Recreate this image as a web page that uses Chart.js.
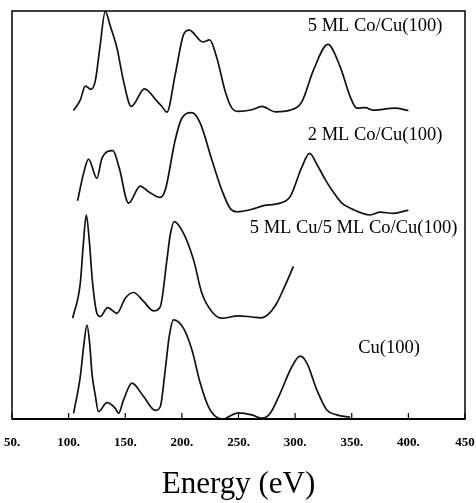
<!DOCTYPE html>
<html><head><meta charset="utf-8">
<script src="https://cdn.jsdelivr.net/npm/chart.js@4.4.1/dist/chart.umd.min.js"></script>
<style>html,body{margin:0;padding:0;background:#fff;}canvas{display:block;}</style>
</head><body>
<canvas id="c" width="476" height="503"></canvas>
<script>
// Energy (eV) and intensity (arbitrary units, curves are vertically offset as in the figure)
const co5E = [104.4,110.3,114.7,119.7,123.5,127.9,132.3,136.8,142.7,148.5,155.3,167.0,178.0,182.4,186.8,194.1,201.5,206.5,218.5,224.5,230.9,238.3,244.2,250.0,261.8,270.7,282.4,295.6,306.0,316.2,328.9,339.8,348.6,354.5,361.8,369.2,388.3,400.0];
const co5I = [75.6,78.2,81.6,80.8,82.8,91.7,99.9,96.3,90.9,82.8,76.6,80.9,77.9,76.6,75.2,84.4,94.2,95.3,92.4,92.9,88.5,80.3,76.2,75.4,75.8,76.6,75.3,75.7,77.8,85.5,91.8,86.3,79.0,76.2,76.3,75.7,76.2,75.6];

const co2E = [107.9,113.2,117.6,125.0,129.4,139.1,144.7,152.9,163.2,170.6,180.9,185.3,194.1,200.0,208.9,216.2,226.5,235.3,242.7,248.6,261.8,272.1,286.8,295.6,306.0,312.7,320.0,327.0,334.0,341.0,350.0,366.2,375.1,386.8,400.0];
const co2I = [53.5,60.2,63.7,59.0,63.9,65.8,61.5,52.9,57.1,55.7,54.3,56.1,68.4,73.7,75.1,72.5,63.5,56.1,51.6,50.8,51.4,52.3,52.9,54.5,61.8,65.1,62.0,58.5,55.5,53.0,51.5,50.0,50.7,50.4,51.2];

const cuCoE = [103.6,110.3,112.9,115.6,118.2,120.9,125.0,127.9,134.4,142.7,150.0,157.3,166.2,175.0,180.9,186.8,189.7,193.2,201.5,210.3,217.7,226.5,235.3,250.0,262.0,270.0,276.0,283.0,290.0,298.5];
const cuCoI = [24.7,33.3,42.6,50.0,43.9,34.1,25.9,25.1,27.3,25.9,29.6,31.0,28.8,26.5,27.5,39.0,45.1,48.4,45.5,39.0,30.8,26.3,24.7,25.3,25.0,24.8,25.6,28.0,32.0,37.4];

const cuE = [104.4,110.3,113.4,116.2,118.7,120.6,123.5,126.4,133.8,141.2,144.1,148.5,155.9,166.2,176.5,180.9,185.3,188.8,192.6,201.5,208.9,216.2,223.5,230.9,236.8,244.2,250.0,261.8,270.9,278.0,286.8,297.1,304.5,310.4,319.2,328.0,336.8,348.6];
const cuI = [1.4,10.4,18.1,23.0,18.1,11.2,5.9,1.8,4.0,2.6,1.4,4.7,8.8,5.5,2.1,3.0,12.0,20.2,24.3,22.2,16.9,8.8,3.0,0.4,0.0,1.0,1.5,1.0,0.2,1.4,6.3,12.8,15.4,13.7,7.1,2.2,1.0,0.4];

const seriesNames = ['5 ML Co/Cu(100)','2 ML Co/Cu(100)','5 ML Cu/5 ML Co/Cu(100)','Cu(100)'];
const tickValues = [50,100,150,200,250,300,350,400,450];
const tickLabels = ['50.','100.','150.','200.','250.','300.','350.','400.','450'];
const axisTitle = 'Energy (eV)';

const SERIF = '"Liberation Serif","Times New Roman",serif';
const pts = (xs, ys) => xs.map((x, i) => ({x, y: ys[i]}));

// label anchor positions (layout, in axis units)
const labelPos = [
  {e: 370.6, v: 96.3},
  {e: 370.6, v: 69.6},
  {e: 351.6, v: 46.8},
  {e: 382.9, v: 17.3}
];

const framePlugin = {
  id: 'frame',
  afterDatasetsDraw(chart) {
    const {ctx, chartArea: a, scales: {x, y}} = chart;
    ctx.save();
    ctx.strokeStyle = '#000';
    ctx.lineWidth = 1.5;
    ctx.strokeRect(a.left, a.top, a.right - a.left, a.bottom - a.top);
    ctx.lineWidth = 2;
    ctx.beginPath(); ctx.moveTo(a.left, a.bottom); ctx.lineTo(a.right, a.bottom); ctx.stroke();
    ctx.lineWidth = 1.2;
    tickValues.forEach(v => {
      const px = x.getPixelForValue(v);
      ctx.beginPath(); ctx.moveTo(px, a.bottom); ctx.lineTo(px, a.bottom - 6); ctx.stroke();
    });
    ctx.fillStyle = '#000';
    ctx.font = '18.5px ' + SERIF;
    ctx.textAlign = 'center';
    ctx.textBaseline = 'middle';
    seriesNames.forEach((n, i) => {
      ctx.fillText(n, x.getPixelForValue(labelPos[i].e), y.getPixelForValue(labelPos[i].v));
    });
    ctx.restore();
  }
};

const lineStyle = {borderColor: '#111', borderWidth: 1.7, pointRadius: 0, fill: false, cubicInterpolationMode: 'monotone'};

new Chart(document.getElementById('c'), {
  type: 'line',
  data: {
    datasets: [
      Object.assign({label: seriesNames[0], data: pts(co5E, co5I)}, lineStyle),
      Object.assign({label: seriesNames[1], data: pts(co2E, co2I)}, lineStyle),
      Object.assign({label: seriesNames[2], data: pts(cuCoE, cuCoI)}, lineStyle),
      Object.assign({label: seriesNames[3], data: pts(cuE, cuI)}, lineStyle)
    ]
  },
  options: {
    responsive: false,
    animation: false,
    devicePixelRatio: 1,
    layout: {padding: {left: 12, right: 11, top: 11, bottom: 0}},
    plugins: {legend: {display: false}, tooltip: {enabled: false}},
    scales: {
      x: {
        type: 'linear', min: 50, max: 450,
        afterBuildTicks: s => { s.ticks = tickValues.map(v => ({value: v})); },
        afterFit: s => { s.height = 84; s.paddingLeft = 0; s.paddingRight = 0; },
        ticks: {
          autoSkip: false, maxRotation: 0, color: '#000', padding: 16,
          font: {family: SERIF, size: 13, weight: 'bold'},
          callback: v => tickLabels[tickValues.indexOf(v)]
        },
        grid: {display: false, drawTicks: false},
        border: {display: false},
        title: {display: true, text: axisTitle, color: '#000', font: {family: SERIF, size: 31}, padding: {top: 0, bottom: 0}}
      },
      y: {type: 'linear', min: 0, max: 100, display: false}
    }
  },
  plugins: [framePlugin]
});
</script>
</body></html>
